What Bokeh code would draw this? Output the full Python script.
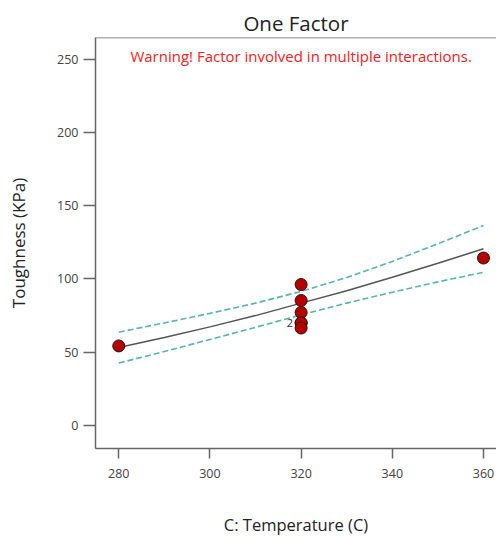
from bokeh.plotting import figure
from bokeh.models import Range1d, Label, Span, ColumnDataSource
from bokeh.core.properties import value
from bokeh.embed import file_html
from bokeh.resources import INLINE

# ---- data ----
temp_c = [280, 320, 320, 320, 320, 320, 320, 360]
toughness = [54.3, 96.2, 85.3, 77.1, 70.0, 70.0, 66.5, 114.3]

curve_temp = [280, 290, 300, 310, 320, 330, 340, 350, 360]
fit_vals = [53.2, 60.0, 67.3, 75.0, 83.5, 92.0, 101.2, 110.7, 120.6]
upper_ci = [63.7, 70.0, 76.5, 83.5, 91.5, 101.0, 112.0, 124.0, 136.5]
lower_ci = [42.6, 50.5, 58.7, 67.0, 75.5, 83.5, 91.0, 98.0, 104.6]

mult_x = [320]
mult_y = [70.0]
mult_text = ["2"]

x_ticks = [280, 300, 320, 340, 360]
y_ticks = [0, 50, 100, 150, 200, 250]

FONT = "Open Sans"
Y0, Y1 = -15.7, 264.8

p = figure(width=496, height=538, output_backend="svg", toolbar_location=None,
           x_range=Range1d(274.9, 362.85), y_range=Range1d(Y0, Y1),
           min_border_left=95, min_border_right=0, min_border_top=37, min_border_bottom=90)

p.title.text = "One Factor"
p.title.text_font = FONT
p.title.text_font_size = "20.5px"
p.title.text_font_style = "normal"
p.title.text_color = "#222222"
p.title.align = "center"
p.title.standoff = 2

p.outline_line_color = None
p.grid.grid_line_color = None
p.background_fill_color = "white"
p.border_fill_color = "white"

for ax in (p.xaxis[0], p.yaxis[0]):
    ax.axis_line_color = "#666666"
    ax.axis_line_width = 1.5
    ax.major_tick_line_color = "#666666"
    ax.major_tick_line_width = 1.5
    ax.minor_tick_line_color = None
    ax.major_tick_in = 0
    ax.major_label_text_font = FONT
    ax.major_label_text_font_size = "12.5px"
    ax.major_label_text_color = "#444444"
    ax.axis_label_text_font = FONT
    ax.axis_label_text_font_style = "normal"
    ax.axis_label_text_color = "#222222"

p.yaxis.axis_label_text_font_size = "17px"
p.xaxis.axis_label_text_font_size = "16.5px"
p.xaxis.ticker = x_ticks
p.yaxis.ticker = y_ticks
p.xaxis.major_tick_out = 10
p.yaxis.major_tick_out = 12
p.xaxis.major_label_standoff = 10
p.yaxis.major_label_standoff = 5
p.xaxis.axis_label = "C: Temperature (C)"
p.xaxis.axis_label_standoff = 32
p.yaxis.axis_label = "Toughness (KPa)"
p.yaxis.axis_label_standoff = 24

# top frame line
p.add_layout(Span(location=Y1, dimension="width", line_color="#666666", line_width=1.5))

# CI bands
p.line(curve_temp, upper_ci, line_color="#55b5b5", line_width=1.6, line_dash="6 3")
p.line(curve_temp, lower_ci, line_color="#55b5b5", line_width=1.6, line_dash="6 3")
# fit
p.line(curve_temp, fit_vals, line_color="#555555", line_width=1.5)

# points
p.scatter(temp_c, toughness, size=12, fill_color="#b30000", line_color="#3a0a0a", line_width=1)

src = ColumnDataSource(dict(x=mult_x, y=mult_y, t=mult_text))
p.text(x="x", y="y", text="t", source=src, x_offset=-8, text_align="right",
       text_baseline="middle", text_font=value(FONT), text_font_size="11px",
       text_color="#333333")

p.add_layout(Label(x=320, y=252.5, text="Warning! Factor involved in multiple interactions.",
                   text_align="center", text_baseline="middle", text_font=FONT,
                   text_font_size="15px", text_color="#ff2020"))

open("out.html", "w").write(file_html(p, INLINE))
